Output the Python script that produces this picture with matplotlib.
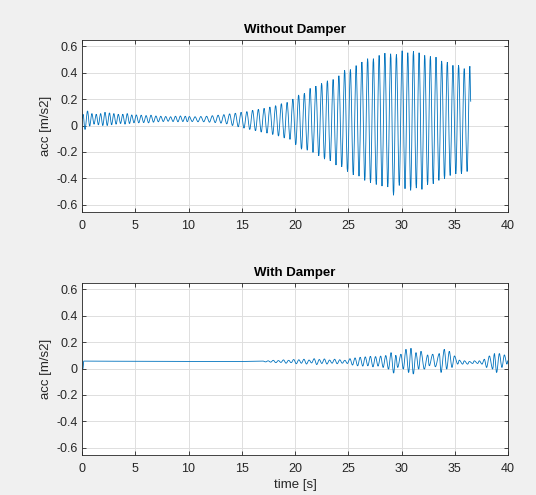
import matplotlib
matplotlib.use("Agg")
import matplotlib.pyplot as plt
from matplotlib.path import Path
from matplotlib.patches import PathPatch

plt.rcParams['font.family'] = ['Liberation Sans', 'DejaVu Sans']

# ---------------- data (turning points) ----------------
# Without damper: times [s] and accelerations [m/s2] of successive extrema
nd_t = [0.00, 0.10, 0.28, 0.52, 0.72, 0.93, 1.13, 1.34, 1.54, 1.75, 1.95, 2.16, 2.37, 2.58, 2.78,
        2.99, 3.20, 3.41, 3.62, 3.83, 4.04, 4.25, 4.46, 4.67, 4.88, 5.10, 5.33, 5.56, 5.79, 6.02,
        6.25, 6.48, 6.71, 6.94, 7.17, 7.40, 7.63, 7.86, 8.09, 8.32, 8.55, 8.78, 9.01, 9.24, 9.47,
        9.70, 9.89,
        10.08, 10.35, 10.62, 10.89, 11.16, 11.43, 11.70, 11.97, 12.24, 12.51, 12.78, 13.05, 13.32, 13.59,
        13.86, 14.13, 14.40, 14.67, 14.94, 15.21, 15.48, 15.75, 16.02, 16.29, 16.56, 16.83, 17.10, 17.37,
        17.64, 17.91, 18.18, 18.45, 18.72, 18.99, 19.26, 19.53, 19.80, 20.07,
        20.34, 20.61, 20.88, 21.15, 21.42, 21.69, 21.96, 22.23, 22.50, 22.77, 23.04, 23.31, 23.58, 23.85,
        24.12, 24.39, 24.66, 24.93, 25.20, 25.47, 25.74, 26.01, 26.28, 26.55, 26.82, 27.09, 27.36, 27.63,
        27.90, 28.17, 28.44, 28.71, 28.98, 29.25, 29.52, 29.79,
        30.06, 30.33, 30.59, 30.86, 31.12, 31.39, 31.65, 31.92, 32.18, 32.45, 32.71, 32.98, 33.24, 33.51,
        33.77, 34.04, 34.30, 34.57, 34.83, 35.10, 35.36, 35.63, 35.89, 36.16, 36.42, 36.50]
nd_acc = [0.050, 0.085, -0.030, 0.110, -0.005, 0.090, 0.010, 0.085, 0.005, 0.090, 0.000, 0.100, 0.000, 0.095, 0.005,
          0.090, 0.010, 0.085, 0.015, 0.085, 0.010, 0.090, 0.015, 0.080, 0.020, 0.080, 0.020, 0.078, 0.022, 0.075,
          0.020, 0.078, 0.025, 0.072, 0.028, 0.070, 0.030, 0.068, 0.032, 0.066, 0.030, 0.070, 0.028, 0.072, 0.030,
          0.070, 0.028,
          0.068, 0.030, 0.066, 0.028, 0.068, 0.028, 0.070, 0.025, 0.074, 0.022, 0.078, 0.018, 0.082, 0.012,
          0.088, 0.000, 0.093, -0.010, 0.100, -0.020, 0.105, -0.030, 0.115, -0.040, 0.122, -0.050, 0.130, -0.058,
          0.140, -0.068, 0.150, -0.080, 0.165, -0.095, 0.175, -0.105, 0.200, -0.145,
          0.231, -0.179, 0.244, -0.187, 0.281, -0.204, 0.298, -0.229, 0.318, -0.254, 0.338, -0.267, 0.348, -0.299,
          0.376, -0.312, 0.418, -0.348, 0.423, -0.373, 0.453, -0.383, 0.480, -0.415, 0.505, -0.433, 0.505, -0.446,
          0.530, -0.458, 0.547, -0.465, 0.542, -0.527, 0.537, -0.453,
          0.565, -0.478, 0.550, -0.490, 0.560, -0.473, 0.550, -0.483, 0.530, -0.448, 0.522, -0.440, 0.517, -0.415,
          0.488, -0.403, 0.478, -0.378, 0.455, -0.366, 0.455, -0.366, 0.430, -0.348, 0.448, 0.180]

# With damper: times [s] and accelerations [m/s2]
wd_t = [0.00, 0.10, 0.16, 3.00, 8.00, 12.00, 15.00,
        17.00, 17.24, 17.48, 17.72, 17.96, 18.20, 18.44, 18.68, 18.92, 19.16, 19.40, 19.64, 19.88, 20.12,
        20.36, 20.60, 20.84, 21.08, 21.32, 21.56, 21.80, 22.04, 22.28, 22.52, 22.76, 23.00, 23.24, 23.48,
        23.72, 23.96, 24.20, 24.44, 24.68, 24.92, 25.16, 25.40, 25.64, 25.88, 26.12, 26.36, 26.60, 26.84,
        27.08, 27.32, 27.56, 27.80, 28.04, 28.28, 28.52, 28.78, 29.02, 29.26, 29.47, 29.64,
        29.95, 30.17, 30.42, 30.67, 30.89, 31.11, 31.36, 31.61, 31.83, 32.14, 32.46, 32.61, 32.93, 33.18,
        33.55, 33.71, 34.02, 34.24, 34.49, 34.74, 34.97, 35.28, 35.43, 35.74, 35.90, 36.21, 36.37, 36.68,
        36.84, 37.15, 37.31, 37.56, 37.78, 37.99, 38.25, 38.56, 38.72, 38.93, 39.19, 39.43, 39.66, 39.90,
        40.00]
wd_acc = [0.000, 0.000, 0.056, 0.055, 0.054, 0.053, 0.053,
          0.056, 0.050, 0.058, 0.048, 0.062, 0.044, 0.060, 0.046, 0.065, 0.040, 0.062, 0.044, 0.068, 0.036,
          0.066, 0.040, 0.070, 0.034, 0.064, 0.042, 0.074, 0.030, 0.068, 0.038, 0.072, 0.034, 0.064, 0.040,
          0.070, 0.036, 0.066, 0.040, 0.062, 0.038, 0.074, 0.026, 0.080, 0.020, 0.085, 0.018, 0.088, 0.020,
          0.092, 0.012, 0.090, 0.018, 0.094, 0.008, 0.098, -0.005, 0.120, -0.035, 0.100, 0.008,
          0.108, -0.005, 0.145, -0.030, 0.153, -0.042, 0.120, -0.005, 0.130, -0.005, 0.103, 0.020, 0.108, 0.013,
          0.113, -0.030, 0.145, -0.005, 0.130, 0.008, 0.095, 0.033, 0.063, 0.033, 0.058, 0.033, 0.053, 0.038,
          0.058, 0.038, 0.058, 0.033, 0.070, 0.008, 0.095, -0.005, 0.113, -0.030, 0.113, 0.008, 0.103, 0.033,
          0.060]

titles = ["Without Damper", "With Damper"]
x_ticks = [0, 5, 10, 15, 20, 25, 30, 35, 40]
y_ticks = [-0.6, -0.4, -0.2, 0, 0.2, 0.4, 0.6]
y_tick_labels = ["-0.6", "-0.4", "-0.2", "0", "0.2", "0.4", "0.6"]
x_label = "time [s]"
y_label = "acc [m/s2]"


def smooth_path(t, a):
    """Smooth curve through successive turning points (flat tangent at each)."""
    verts = [(t[0], a[0])]
    codes = [Path.MOVETO]
    for i in range(1, len(t)):
        dt = t[i] - t[i - 1]
        verts += [(t[i - 1] + dt / 3, a[i - 1]), (t[i] - dt / 3, a[i]), (t[i], a[i])]
        codes += [Path.CURVE4] * 3
    return Path(verts, codes)


# ---------------- figure ----------------
W, H = 536, 495
fig = plt.figure(figsize=(W / 100, H / 100), dpi=100, facecolor='#f0f0f0')


def px_axes(left, top, right, bottom):
    return fig.add_axes([left / W, 1 - bottom / H, (right - left) / W, (bottom - top) / H])


ax1 = px_axes(82, 39.5, 508, 211.5)
ax2 = px_axes(82, 282.5, 508, 454.5)

axis_col = '#262626'
for ax, t, a, ttl in [(ax1, nd_t, nd_acc, titles[0]), (ax2, wd_t, wd_acc, titles[1])]:
    ax.set_facecolor('white')
    ax.add_patch(PathPatch(smooth_path(t, a), facecolor='none', edgecolor='#0072BD', lw=0.6))
    ax.set_xlim(0, 40)
    ax.set_ylim(-0.65, 0.65)
    ax.set_xticks(x_ticks)
    ax.set_xticklabels([str(v) for v in x_ticks])
    ax.set_yticks(y_ticks)
    ax.set_yticklabels(y_tick_labels)
    ax.grid(True, color='#dedede', lw=0.7)
    ax.set_axisbelow(True)
    ax.tick_params(direction='in', length=3, width=0.6, colors=axis_col, labelsize=9,
                   top=True, right=True)
    ax.tick_params(axis='x', pad=6)
    ax.tick_params(axis='y', pad=3)
    for s in ax.spines.values():
        s.set_color(axis_col)
        s.set_linewidth(0.6)
    ax.set_title(ttl, fontsize=9.5, fontweight='bold', color='black', pad=5)
    ax.set_ylabel(y_label, fontsize=9.5, color=axis_col, labelpad=3)

ax2.set_xlabel(x_label, fontsize=9.5, color=axis_col, labelpad=3)

fig.savefig("out.png", dpi=100, facecolor=fig.get_facecolor())
